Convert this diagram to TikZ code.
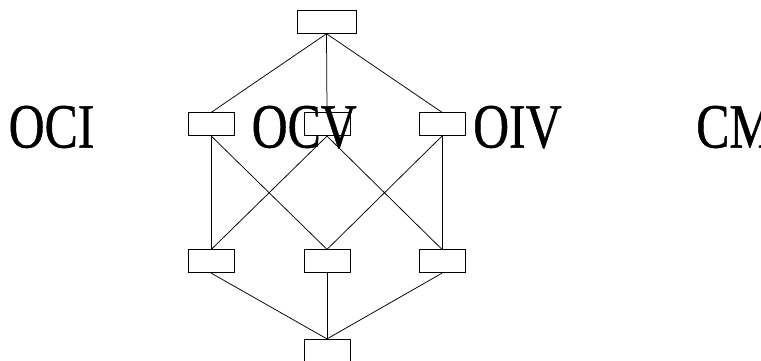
\documentclass[tikz,border=0pt]{standalone}
\usepackage{fontspec}
\setmainfont{Liberation Serif}
\newfontfamily\bigfont{Liberation Serif}[FakeBold=0.8]
\begin{document}
\begin{tikzpicture}[x=1pt,y=-1pt,
  cell/.style={draw=black, fill=white, line width=0.8pt, minimum width=46pt, minimum height=23pt, inner sep=0pt},
  topcell/.style={cell, minimum width=59pt, minimum height=22.7pt},
  link/.style={draw=black, line width=0.75pt},
  biglabel/.style={anchor=base west, inner sep=0pt, font=\bigfont\fontsize{63}{63}\selectfont}]
\useasboundingbox (0,0) rectangle (761,360);
\clip (0,0) rectangle (761,360);
% connectors first, boxes on top
\node[topcell] (t) at (326.5,22) {};
\node[cell] (ml) at (211.3,124.2) {};
\node[cell] (mm) at (327,124.2) {};
\node[cell] (mr) at (442,124.2) {};
\node[cell] (bl) at (211.3,261.3) {};
\node[cell] (bm) at (327,261.3) {};
\node[cell] (br) at (442,261.3) {};
\node[cell] (bot) at (327,350.8) {};
\draw[link] (t.south) -- (ml.north);
\draw[link] (t.south) -- (mm.north);
\draw[link] (t.south) -- (mr.north);
\draw[link] (ml.south) -- (bl.north);
\draw[link] (ml.south) -- (bm.north);
\draw[link] (mm.south) -- (bl.north);
\draw[link] (mm.south) -- (br.north);
\draw[link] (mr.south) -- (bm.north);
\draw[link] (mr.south) -- (br.north);
\draw[link] (bl.south) -- (bot.north);
\draw[link] (bm.south) -- (bot.north);
\draw[link] (br.south) -- (bot.north);
% labels
\node[biglabel] (oci) at (8.5,147.5) {\scalebox{0.79}[1]{OCI}};
\node[biglabel] (ocv) at (251.5,147.5) {\scalebox{0.79}[1]{OCV}};
\node[biglabel] (oiv) at (473,147.5) {\scalebox{0.79}[1]{OIV}};
\node[biglabel] (cm) at (696,147.5) {\scalebox{0.79}[1]{CM}};
\end{tikzpicture}
\end{document}
